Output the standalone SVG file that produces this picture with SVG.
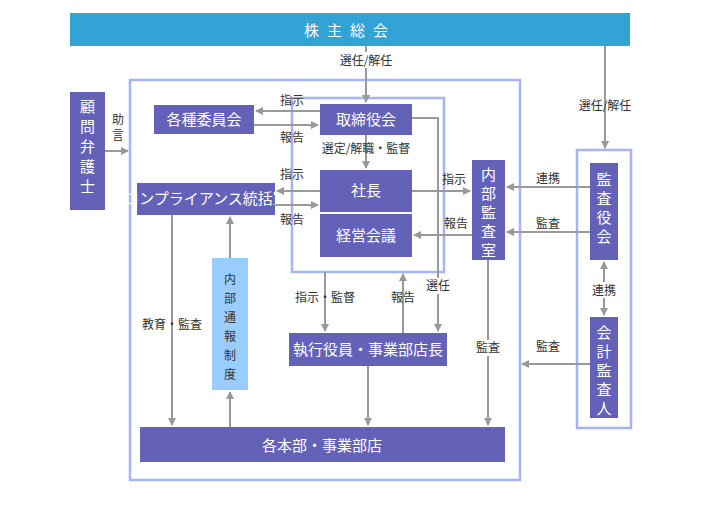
<svg xmlns="http://www.w3.org/2000/svg" width="710" height="510" viewBox="0 0 710 510">
<style>
.b{fill:#6461b8}
.t{font-family:"Noto Sans CJK JP","Liberation Sans",sans-serif;fill:#fff;font-size:15px;text-anchor:middle}
.l{font-family:"Noto Sans CJK JP","Liberation Sans",sans-serif;fill:#333;font-size:12px;text-anchor:middle}
.fr{fill:none;stroke:#a8b2f8;stroke-width:2.5}
.c line,.c polyline{stroke:#999;stroke-width:2;fill:none;marker-end:url(#a)}
</style>
<defs><marker id="a" markerWidth="8" markerHeight="8" refX="7" refY="4" orient="auto" markerUnits="userSpaceOnUse"><path d="M0,0L8,4L0,8z" fill="#999"/></marker></defs>
<rect x="0" y="0" width="710" height="510" fill="#fff"/>
<rect class="fr" x="130" y="80" width="390" height="400"/>
<rect class="fr" x="292" y="98" width="152" height="174"/>
<rect class="fr" x="577" y="150" width="54" height="278"/>
<g id="soukai"><rect x="70" y="13" width="560" height="33" fill="#33a3d6"/><text class="t" x="350" y="36" font-size="18" letter-spacing="8">株主総会</text></g>
<g id="komon"><rect class="b" x="70" y="92" width="35" height="118"/><text class="t" x="87.5" y="112">顧</text><text class="t" x="87.5" y="132">問</text><text class="t" x="87.5" y="152">弁</text><text class="t" x="87.5" y="172">護</text><text class="t" x="87.5" y="192">士</text></g>
<g id="iinkai"><rect class="b" x="154" y="105" width="100" height="29"/><text class="t" x="204" y="125">各種委員会</text></g>
<g id="torishimari"><rect class="b" x="320" y="104" width="92" height="31"/><text class="t" x="366" y="125">取締役会</text></g>
<g id="shacho"><rect class="b" x="320" y="170" width="92" height="42"/><text class="t" x="366" y="196">社長</text></g>
<g id="keiei"><rect class="b" x="320" y="214" width="92" height="43"/><text class="t" x="366" y="241">経営会議</text></g>
<g id="comp"><rect class="b" x="137" y="183" width="138" height="32"/><text class="t" x="206" y="204" font-size="13">コンプライアンス統括室</text></g>
<g id="naibukansa"><rect class="b" x="472" y="160" width="33" height="100"/><text class="t" x="488.5" y="180">内</text><text class="t" x="488.5" y="199">部</text><text class="t" x="488.5" y="218">監</text><text class="t" x="488.5" y="237">査</text><text class="t" x="488.5" y="256">室</text></g>
<g id="tsuho"><rect x="212" y="258" width="36" height="132" fill="#99ccff"/><text class="l" x="230" y="284" font-size="15">内</text><text class="l" x="230" y="303" font-size="15">部</text><text class="l" x="230" y="322" font-size="15">通</text><text class="l" x="230" y="341" font-size="15">報</text><text class="l" x="230" y="360" font-size="15">制</text><text class="l" x="230" y="379" font-size="15">度</text></g>
<g id="shikko"><rect class="b" x="289" y="333" width="158" height="33"/><text class="t" x="368" y="355" font-size="14">執行役員・事業部店長</text></g>
<g id="honbu"><rect class="b" x="140" y="427" width="365" height="35"/><text class="t" x="322" y="451" font-size="18">各本部・事業部店</text></g>
<g id="kansayaku"><rect class="b" x="590" y="163" width="28" height="97"/><text class="t" x="604" y="185">監</text><text class="t" x="604" y="204">査</text><text class="t" x="604" y="223">役</text><text class="t" x="604" y="242">会</text></g>
<g id="kaikei"><rect class="b" x="590" y="317" width="28" height="101"/><text class="t" x="604" y="338">会</text><text class="t" x="604" y="357">計</text><text class="t" x="604" y="376">監</text><text class="t" x="604" y="395">査</text><text class="t" x="604" y="414">人</text></g>
<g class="c">
<line x1="366" y1="46" x2="366" y2="102"/>
<line x1="605" y1="46" x2="605" y2="148"/>
<line x1="105" y1="151" x2="128" y2="151"/>
<line x1="320" y1="111" x2="256" y2="111"/>
<line x1="254" y1="125" x2="318" y2="125"/>
<line x1="366" y1="135" x2="366" y2="168"/>
<line x1="320" y1="191" x2="277" y2="191"/>
<line x1="275" y1="205" x2="318" y2="205"/>
<line x1="412" y1="191" x2="470" y2="191"/>
<line x1="472" y1="235" x2="414" y2="235"/>
<polyline points="412,118 438,118 438,331"/>
<line x1="325" y1="272" x2="325" y2="331"/>
<line x1="403" y1="333" x2="403" y2="274"/>
<line x1="368" y1="366" x2="368" y2="425"/>
<line x1="488" y1="260" x2="488" y2="425"/>
<line x1="172" y1="215" x2="172" y2="425"/>
<line x1="230" y1="427" x2="230" y2="392"/>
<line x1="230" y1="258" x2="230" y2="217"/>
<line x1="590" y1="187" x2="507" y2="187"/>
<line x1="590" y1="232" x2="507" y2="232"/>
<line x1="590" y1="364" x2="522" y2="364"/>
<line x1="604" y1="289" x2="604" y2="262"/>
<line x1="604" y1="289" x2="604" y2="315"/>
</g>
<g id="labels" font-size="12">
<rect x="330" y="52" width="72" height="16" fill="#fff"/><text class="l" x="366" y="65">選任/解任</text>
<text class="l" x="605" y="110">選任/解任</text>
<text class="l" x="118" y="124">助</text><text class="l" x="118" y="140">言</text>
<text class="l" x="292" y="105">指示</text><text class="l" x="292" y="142">報告</text>
<text class="l" x="366" y="153">選定/解職・監督</text>
<text class="l" x="292" y="179">指示</text><text class="l" x="292" y="224">報告</text>
<text class="l" x="454" y="184">指示</text><text class="l" x="456" y="228">報告</text>
<text class="l" x="548" y="183">連携</text><text class="l" x="548" y="228">監査</text>
<rect x="591" y="282" width="26" height="16" fill="#fff"/><text class="l" x="604" y="295">連携</text>
<text class="l" x="548" y="351">監査</text>
<rect x="474" y="340" width="28" height="16" fill="#fff"/><text class="l" x="488" y="352">監査</text>
<text class="l" x="172" y="329">教育・監査</text>
<text class="l" x="325" y="302">指示・監督</text><text class="l" x="403" y="302">報告</text>
<rect x="426" y="278" width="24" height="16" fill="#fff"/><text class="l" x="438" y="290">選任</text>
</g>
</svg>
